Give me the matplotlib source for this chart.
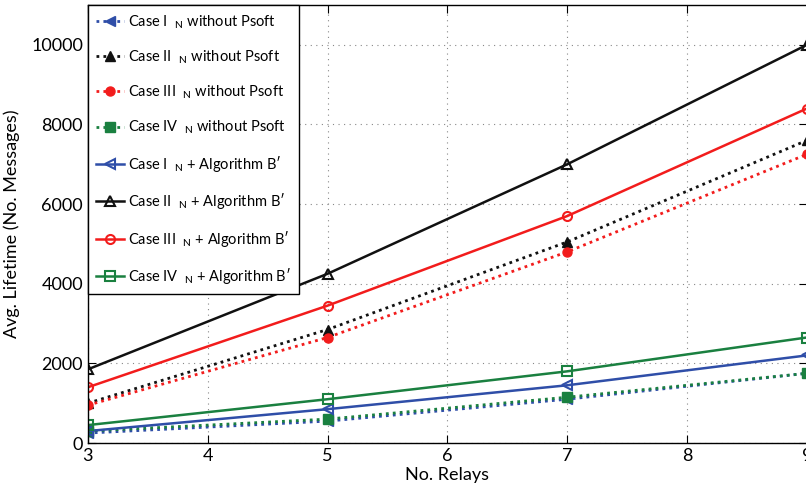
import numpy as np
import matplotlib
matplotlib.use('Agg')
import matplotlib.pyplot as plt

plt.rcParams['font.family'] = ['Lato', 'DejaVu Sans']
plt.rcParams['mathtext.fontset'] = 'custom'
plt.rcParams['mathtext.rm'] = 'Lato'

relays = [3, 5, 7, 9]

# without Psoft (dotted)
case1_nopsoft = [250, 550, 1100, 1750]
case2_nopsoft = [1000, 2850, 5050, 7600]
case3_nopsoft = [950, 2650, 4800, 7250]
case4_nopsoft = [300, 600, 1150, 1750]

# + Algorithm B' (solid)
case1_alg = [300, 850, 1450, 2200]
case2_alg = [1850, 4250, 7000, 10000]
case3_alg = [1400, 3450, 5700, 8400]
case4_alg = [450, 1100, 1800, 2650]

names = ['I', 'II', 'III', 'IV']
colors = ['#2f4ea8', '#111111', '#f21c1c', '#1a8040']
markers = ['<', '^', 'o', 's']

fig = plt.figure(figsize=(8.06, 5.04), dpi=100)
ax = fig.add_axes([0.109, 0.121, 0.892, 0.869])

for name, y, c, m in zip(names, [case1_nopsoft, case2_nopsoft, case3_nopsoft, case4_nopsoft], colors, markers):
    ax.plot(relays, y, linestyle=(0, (1, 1.5)), linewidth=2.0, color=c, marker=m,
            markersize=6.5, markerfacecolor=c, markeredgecolor=c,
            label='Case %s  $_{\\rm N}$ without Psoft' % name)

for name, y, c, m in zip(names, [case1_alg, case2_alg, case3_alg, case4_alg], colors, markers):
    ax.plot(relays, y, linestyle='-', linewidth=1.8, color=c, marker=m,
            markersize=6.5, markerfacecolor='none', markeredgecolor=c, markeredgewidth=1.5,
            label="Case %s  $_{\\rm N}$ + Algorithm B\u2032" % name)

ax.set_xlim(3, 9)
ax.set_ylim(0, 11000)
ax.set_xticks([3, 4, 5, 6, 7, 8, 9])
ax.set_yticks([0, 2000, 4000, 6000, 8000, 10000])
ax.grid(True, linestyle=(0, (1, 4)), color='#888888', linewidth=0.8)
ax.tick_params(direction='in', top=True, right=True, labelsize=13, length=6)
for s in ax.spines.values():
    s.set_linewidth(1.0)

ax.set_xlabel('No. Relays', fontsize=13, labelpad=2)
ax.set_ylabel('Avg. Lifetime (No. Messages)', fontsize=13, labelpad=8)

leg = ax.legend(loc='upper left', borderaxespad=0, fontsize=10.5, handlelength=1.9,
                handletextpad=0.3, labelspacing=1.2, fancybox=False, framealpha=1,
                edgecolor='black', borderpad=0.55)
leg.get_frame().set_linewidth(1.0)

fig.savefig('out.png', dpi=100)
